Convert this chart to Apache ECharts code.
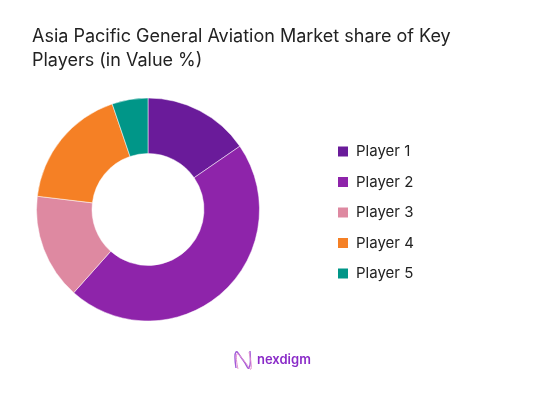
<!DOCTYPE html>
<html><head><meta charset="utf-8">
<script src="https://cdn.jsdelivr.net/npm/echarts@6/dist/echarts.min.js"></script>
<style>html,body{margin:0;padding:0;background:#fff}#c{width:536px;height:414px}</style>
</head><body><div id="c"></div>
<script>
const players = ['Player 1','Player 2','Player 3','Player 4','Player 5'];
const shares = [15.4, 46.2, 15.3, 17.9, 5.2];
const colors = ['#6A1B9A','#8E24AA','#DE89A1','#F58025','#009688'];
const titleText = 'Asia Pacific General Aviation Market share of Key\nPlayers (in Value %)';

const chart = echarts.init(document.getElementById('c'));
chart.setOption({
  animation:false,
  color: colors,
  title:{ text:titleText, left:32, top:25, padding:0,
    textStyle:{fontFamily:'Inter', fontSize:18, fontWeight:'normal', color:'#222', lineHeight:24}},
  legend:{ orient:'vertical', left:336, top:144, padding:0, itemWidth:12, itemHeight:12, itemGap:15.5,
    icon:'rect', textStyle:{fontFamily:'Inter', fontSize:15, color:'#222', padding:[0,0,0,2]}, data:players},
  series:[{ type:'pie', center:[148,209.5], radius:[56,111.5], startAngle:90, clockwise:true,
    label:{show:false}, labelLine:{show:false},
    itemStyle:{borderColor:'#fff', borderWidth:0.5},
    data: players.map((p,i)=>({name:p, value:shares[i]})) }],
  graphic:[
    { type:'polyline', shape:{points:[[236,368],[236,352],[243,360],[249,368],[250,351]], smooth:0.5},
      style:{stroke:'#A05AD8', lineWidth:1.4, fill:null}},
    { type:'polyline', shape:{points:[[238,369],[237,354],[245,362],[251,369],[249,352]], smooth:0.5},
      style:{stroke:'#E58FD0', lineWidth:1, fill:null}},
    { type:'text', left:257, top:354, style:{text:'nexdigm', fontFamily:'Inter', fontSize:13, fontWeight:600, fill:'#8A2BC8'}}
  ]
});
</script></body></html>
